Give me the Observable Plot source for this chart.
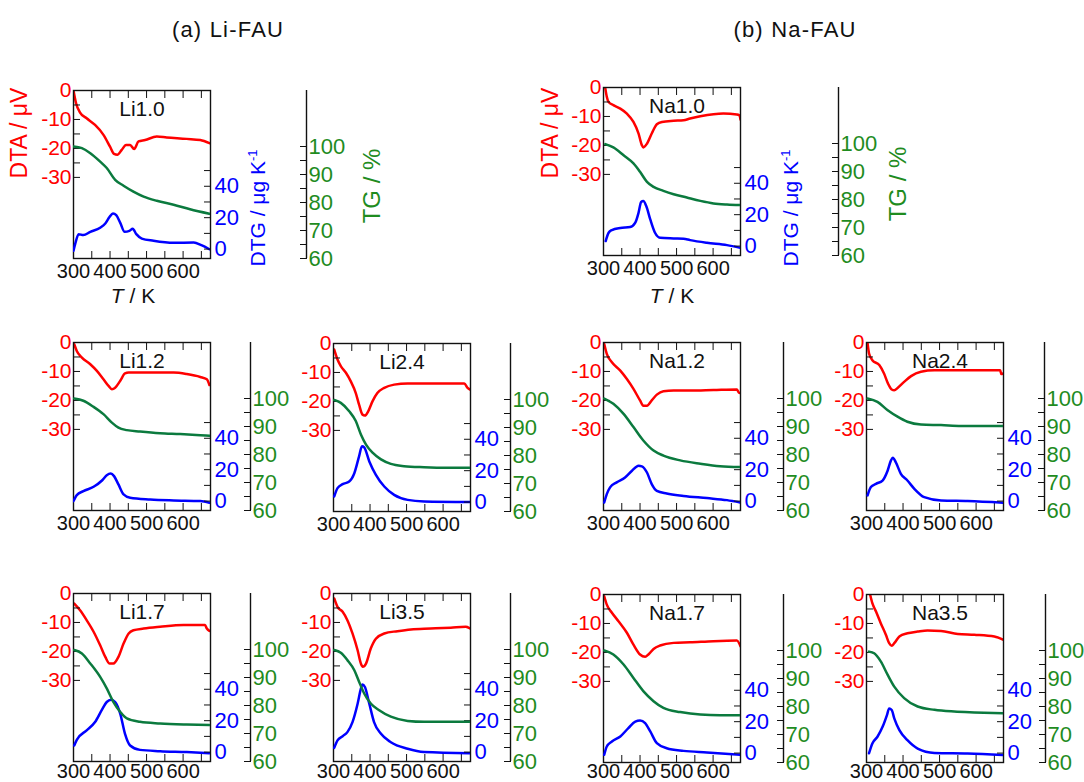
<!DOCTYPE html>
<html><head><meta charset="utf-8">
<script src="https://cdn.jsdelivr.net/npm/d3@7"></script>
<script src="https://cdn.jsdelivr.net/npm/@observablehq/plot@0.6"></script>
<style>
body{margin:0;background:#fff}
#fig{position:relative;width:1084px;height:782px;overflow:hidden;font-family:"Liberation Sans",Arial,sans-serif;background:#fff}
.lab{position:absolute;white-space:nowrap;transform:translate(-50%,-50%);line-height:1}
.rot{transform:translate(-50%,-50%) rotate(-90deg)}
#fig svg{position:absolute}
sup{font-size:0.62em;vertical-align:0.55em;line-height:0}
</style></head><body><div id="fig"></div><script>
// ---- data: [T (K), value] ----
const li10_dta = [[300,0],[307,-4.4],[318,-7.6],[336,-9.6],[359,-11.9],[382,-15.3],[400,-19.4],[411,-21.9],[420,-22.2],[432,-20.5],[444,-18.8],[455,-18.8],[466,-20.2],[478,-17.6],[496,-17.1],[528,-15.9],[555,-16.2],[610,-16.7],[647,-17.1],[672,-18.2]];
const li10_tg = [[300,100],[323,99.4],[346,97.6],[373,94.6],[391,92.3],[414,88.1],[437,86],[464,83.9],[492,82.1],[528,80.6],[574,79.2],[619,77.6],[672,76]];
const li10_dtg = [[300,-1.1],[305,3.6],[314,9.5],[327,8.9],[346,11],[373,13.6],[387,16.3],[399,20.6],[408,22.7],[417,21.6],[428,16.7],[440,11],[453,11.6],[462,12.9],[472,9.5],[487,6.7],[519,5.3],[574,4],[629,4.2],[650,2.5],[672,-0.1]];

const na10_dta = [[305,-0.3],[309,-3.2],[314,-5],[327,-6.1],[346,-7.3],[364,-9],[382,-11.9],[396,-15.9],[405,-19.9],[409,-20.7],[419,-19.4],[432,-15.9],[446,-12.7],[460,-11.9],[492,-11.5],[519,-11.3],[537,-10.7],[565,-9.9],[601,-9.2],[628,-9],[665,-9.3],[672,-9.6],[675,-11.1]];
const na10_tg = [[305,99.8],[327,98.6],[355,95.8],[382,92.9],[400,89.9],[419,86.3],[437,84.5],[464,83.1],[492,81.9],[528,80.7],[565,79.5],[601,78.6],[638,78.2],[675,78]];
const na10_dtg = [[306,3.2],[314,8.5],[323,10.2],[346,11.5],[373,12.1],[387,14.9],[396,21.3],[403,28.1],[409,28.7],[417,25.5],[428,17],[441,8.5],[455,5.3],[492,4.9],[519,4.7],[537,3.8],[583,2.1],[638,0.6],[675,-1.1]];

const li12_dta = [[302,-0.6],[309,-2.9],[323,-5.2],[346,-7.5],[364,-9.8],[382,-12.7],[396,-15],[405,-16.1],[414,-15.6],[428,-13.2],[441,-10.7],[451,-10.4],[510,-10.4],[574,-10.4],[610,-10.9],[647,-11.9],[665,-12.7],[672,-14.7]];
const li12_tg = [[302,100],[327,99.2],[355,97],[382,94.4],[405,91.4],[423,89.6],[446,88.7],[482,88.2],[537,87.6],[592,87.3],[647,86.9],[672,86.7]];
const li12_dtg = [[300,0],[309,3.8],[327,6.3],[355,9.1],[378,13.1],[391,16.5],[402,17.6],[411,15.9],[423,10.6],[437,4.2],[455,2.1],[510,1],[574,0.4],[647,0],[672,-1.1]];

const li24_dta = [[302,-2.1],[311,-5.5],[320,-7.8],[334,-10.1],[347,-13],[361,-17.1],[370,-21.1],[379,-24.5],[386,-24.9],[395,-23.4],[407,-19.9],[420,-17.1],[439,-15.3],[466,-14.2],[503,-13.8],[548,-13.8],[594,-13.8],[658,-13.8],[667,-15.3],[674,-15.9]];
const li24_tg = [[302,99.8],[320,98.8],[343,95.8],[361,92.3],[375,87.5],[389,83.9],[407,81],[430,78.6],[457,77],[493,76.2],[548,75.8],[612,75.6],[674,75.6]];
const li24_dtg = [[302,3.6],[311,8.9],[325,11.4],[343,13.1],[357,18.4],[370,29.1],[378,35.5],[384,34.8],[398,25.9],[416,17.4],[439,9.9],[466,4.6],[503,1.4],[548,0.4],[674,0]];

const li17_dta = [[302,-3.5],[318,-5.8],[336,-9.2],[355,-13.2],[373,-17.9],[387,-21.9],[399,-24.2],[409,-24.2],[423,-21.9],[437,-17.3],[451,-13.8],[464,-12.7],[492,-12.1],[537,-11.5],[601,-10.9],[660,-10.9],[665,-12.1],[672,-12.9]];
const li17_tg = [[302,99.8],[323,98.6],[346,95],[373,90.2],[391,86.1],[409,81.3],[428,77.7],[446,75.4],[482,74.2],[537,73.6],[610,73.2],[672,73]];
const li17_dtg = [[302,4.2],[309,7.8],[336,13.8],[359,19.1],[378,27],[391,31.9],[403,33.3],[414,31.9],[428,24.4],[441,11.6],[455,4.2],[482,1.4],[537,0.6],[610,0],[672,-0.7]];

const li35_dta = [[302,-1.7],[311,-4.6],[325,-6.3],[338,-9.2],[352,-13.8],[366,-19.6],[375,-24.2],[380,-25.3],[389,-24.2],[402,-19],[416,-15.6],[439,-13.8],[475,-13],[512,-12.4],[566,-12.1],[621,-11.8],[662,-11.5],[674,-12.1]];
const li35_tg = [[302,99.8],[320,98.8],[338,96.2],[357,92.6],[370,88.5],[384,84.3],[402,80.7],[425,78.3],[457,76],[503,74.5],[548,74.2],[674,74.2]];
const li35_dtg = [[302,2.7],[311,7.4],[325,10.1],[338,12.7],[352,19.1],[366,30.8],[375,40.4],[379,43.1],[386,41.4],[398,30.8],[411,19.1],[430,11.6],[457,6.3],[503,2.1],[548,0],[674,-0.7]];

const na12_dta = [[302,-0.5],[309,-3.9],[323,-6.8],[346,-9.7],[364,-12.6],[382,-16],[400,-20],[409,-21.8],[419,-21.8],[432,-20],[446,-18],[464,-16.8],[492,-16.6],[537,-16.6],[601,-16.4],[665,-16.2],[670,-17.2],[675,-17.5]];
const na12_tg = [[302,100],[327,98.1],[355,94.5],[382,89.8],[409,85],[437,81.4],[464,79.6],[510,77.9],[565,76.7],[619,75.8],[675,75.5]];
const na12_dtg = [[302,-0.9],[309,4.4],[318,8.7],[336,11.9],[359,15],[378,19.3],[396,22.5],[405,22.1],[419,18.2],[432,10.8],[446,6.5],[473,4.8],[519,3.3],[583,1.9],[638,0.6],[675,-0.9]];

const na24_dta = [[303,-0.3],[307,-3.8],[316,-6.1],[335,-7.8],[348,-10.7],[359,-14.2],[369,-16.2],[376,-16.5],[385,-15.7],[403,-13.6],[422,-11.6],[449,-10.1],[486,-9.6],[522,-9.6],[559,-9.6],[614,-9.6],[666,-9.6],[669,-10.9],[675,-10.7]];
const na24_tg = [[303,100],[330,98.8],[358,95.8],[385,93.5],[412,91.7],[449,90.7],[504,90.5],[559,90.2],[675,90.2]];
const na24_dtg = [[303,3.6],[312,8.9],[326,11],[344,13.1],[358,19.5],[367,25.9],[372,27.6],[380,24.8],[394,17.4],[412,13.1],[431,7.8],[458,2.5],[504,0.4],[577,0],[675,-1.1]];

const na17_dta = [[302,-0.6],[309,-3.5],[323,-6.3],[341,-9.2],[364,-13.2],[382,-17.3],[400,-20.7],[414,-21.5],[423,-20.7],[437,-18.8],[455,-17.6],[492,-16.7],[537,-16.5],[601,-16.1],[665,-15.9],[675,-17.9]];
const na17_tg = [[302,100],[327,98.6],[355,95],[382,90.2],[409,85.5],[437,81.9],[464,79.5],[510,78],[565,77.1],[619,76.9],[675,76.9]];
const na17_dtg = [[302,-1.1],[309,4.2],[323,7.4],[346,10.6],[368,15.9],[387,20.1],[400,20.8],[414,19.1],[428,13.8],[446,6.3],[473,3.1],[519,1.4],[583,0.4],[675,-1.1]];

const na35_dta = [[310,-0.1],[316,-3],[326,-5.9],[339,-9.9],[353,-13.9],[362,-16.8],[369,-17.7],[376,-16.8],[390,-14.5],[412,-13.4],[440,-12.8],[467,-12.4],[504,-12.6],[550,-13.6],[595,-13.9],[650,-14.5],[675,-15.7]];
const na35_tg = [[307,99.6],[321,99],[339,96.1],[358,91.3],[376,87.1],[403,83],[440,80],[486,78.8],[540,78.2],[595,77.9],[675,77.6]];
const na35_dtg = [[307,-0.1],[316,6.1],[330,10.4],[344,16.7],[356,24.2],[362,28.4],[369,27.4],[376,22.1],[390,14.6],[412,8.2],[440,2.9],[486,0.1],[577,-0.3],[675,-1.3]];

// ---- tick values ----
const xTicks = [300,350,400,450,500,550,600,650];
const xLabels = [300,400,500,600];
const dtaTicks = [0,-5,-10,-15,-20,-25,-30];
const dtaLabels = [0,-10,-20,-30];
const dtgTicks = [0,10,20,30,40,50];
const dtgLabels = [0,20,40];
const tgTicks = [60,65,70,75,80,85,90,95,100];
const tgLabels = [60,70,80,90,100];

// ---- layout ----
const panels = [
  {name:"Li1.0", left:73,  top:90,  tgx:233, dx:0, xpad:5, dta:li10_dta, tg:li10_tg, dtg:li10_dtg},
  {name:"Na1.0", left:603, top:87,  tgx:235, dx:5, xpad:5, dta:na10_dta, tg:na10_tg, dtg:na10_dtg},
  {name:"Li1.2", left:73,  top:342, tgx:177, dx:0, xpad:5, dta:li12_dta, tg:li12_tg, dtg:li12_dtg},
  {name:"Li2.4", left:333, top:343, tgx:177, dx:0, xpad:5, dta:li24_dta, tg:li24_tg, dtg:li24_dtg},
  {name:"Na1.2", left:603, top:342, tgx:180, dx:5, xpad:5, dta:na12_dta, tg:na12_tg, dtg:na12_dtg},
  {name:"Na2.4", left:866, top:342, tgx:178, dx:5, xpad:5, dta:na24_dta, tg:na24_tg, dtg:na24_dtg},
  {name:"Li1.7", left:73,  top:593, tgx:177, dx:0, xpad:2, dta:li17_dta, tg:li17_tg, dtg:li17_dtg},
  {name:"Li3.5", left:333, top:593, tgx:177, dx:0, xpad:2, dta:li35_dta, tg:li35_tg, dtg:li35_dtg},
  {name:"Na1.7", left:603, top:594, tgx:180, dx:5, xpad:1, dta:na17_dta, tg:na17_tg, dtg:na17_dtg},
  {name:"Na3.5", left:866, top:594, tgx:179, dx:5, xpad:1, dta:na35_dta, tg:na35_tg, dtg:na35_dtg}
];

const FONT = '"Liberation Sans", Arial, sans-serif';
const RED = "#ff0000", BLUE = "#0000ff", GREEN_T = "#1f8c1f", GREEN_L = "#0b7a3e", INK = "#111";
const ML = 60, MR = 60, MT = 14, MB = 44, W = 137, H = 168;
const fig = document.getElementById("fig");
const fmt = d => String(d);
const X = d => d[0], Y = d => d[1];
const LW = 2.5;

function place(svg, x, y) { svg.style.left = x + "px"; svg.style.top = y + "px"; fig.appendChild(svg); }

function base(extra) {
  return Object.assign({
    width: ML + W + MR, height: MT + H + MB,
    marginLeft: ML, marginRight: MR, marginTop: MT, marginBottom: MB,
    style: {background: "transparent", fontFamily: FONT, fontSize: "20px", overflow: "visible"}
  }, extra);
}

for (const p of panels) {
  const ox = p.left - ML, oy = p.top - MT;
  // DTA layer with frame and x axes
  place(Plot.plot(base({
    x: {domain: [300, 675]},
    y: {domain: [-58, 0]},
    marks: [
      Plot.line(p.dta, {x: X, y: Y, stroke: RED, strokeWidth: LW, curve: "monotone-x", clip: true}),
      Plot.frame({stroke: INK, strokeWidth: 1.4}),
      Plot.axisX({anchor: "bottom", ticks: xTicks, tickSize: -7, tickFormat: () => "", label: null, color: INK}),
      Plot.axisX({anchor: "top", ticks: xTicks, tickSize: -7, tickFormat: () => "", label: null, color: INK}),
      Plot.axisX({anchor: "bottom", ticks: xLabels, tickSize: 0, tickPadding: p.xpad, tickFormat: fmt, label: null, color: "#111", fontSize: 20}),
      Plot.axisY({anchor: "left", ticks: dtaTicks, tickSize: -7, tickFormat: () => "", label: null, color: INK}),
      Plot.axisY({anchor: "left", ticks: dtaLabels, tickSize: 0, tickPadding: 2, tickFormat: fmt, label: null, color: RED, fontSize: 21}),
      Plot.text([p.name], {frameAnchor: "top", dy: 19, dx: p.dx, text: d => d, fontSize: 21, lineAnchor: "middle", fill: "#111"})
    ]
  })), ox, oy);
  // DTG layer
  place(Plot.plot(base({
    x: {domain: [300, 675], axis: null},
    y: {domain: [-6, 101]},
    marks: [
      Plot.line(p.dtg, {x: X, y: Y, stroke: BLUE, strokeWidth: LW, curve: "monotone-x", clip: true}),
      Plot.axisY({anchor: "right", ticks: dtgTicks, tickSize: -7, tickFormat: () => "", label: null, color: INK}),
      Plot.axisY({anchor: "right", ticks: dtgLabels, tickSize: 0, tickPadding: 4, tickFormat: fmt, label: null, color: BLUE, fontSize: 22})
    ]
  })), ox, oy);
  // TG curve layer
  place(Plot.plot(base({
    x: {domain: [300, 675], axis: null},
    y: {domain: [60, 120], axis: null},
    marks: [
      Plot.line(p.tg, {x: X, y: Y, stroke: GREEN_L, strokeWidth: LW, curve: "monotone-x", clip: true})
    ]
  })), ox, oy);
  // TG separate axis
  place(Plot.plot({
    width: 70, height: MT + H + MB, marginLeft: 9, marginRight: 60, marginTop: MT, marginBottom: MB,
    style: {background: "transparent", fontFamily: FONT, fontSize: "22px", overflow: "visible"},
    x: {domain: [0, 1], axis: null},
    y: {domain: [60, 120]},
    marks: [
      Plot.ruleX([1], {stroke: INK, strokeWidth: 1.4}),
      Plot.axisY({anchor: "right", ticks: tgTicks, tickSize: -7, tickFormat: () => "", label: null, color: INK}),
      Plot.axisY({anchor: "right", ticks: tgLabels, tickSize: 0, tickPadding: 2, tickFormat: fmt, label: null, color: GREEN_T, fontSize: 22})
    ]
  }), p.left + p.tgx - 10, oy);
}

// ---- text labels ----
function label(html, x, y, opts = {}) {
  const d = document.createElement("div");
  d.className = "lab" + (opts.rot ? " rot" : "");
  d.innerHTML = html;
  d.style.left = x + "px"; d.style.top = y + "px";
  d.style.fontSize = (opts.size || 20) + "px";
  d.style.color = opts.color || "#111";
  if (opts.ls) d.style.letterSpacing = opts.ls + "px";
  fig.appendChild(d);
}
label("(a) Li-FAU", 228, 30, {size: 22, ls: 1.2});
label("(b) Na-FAU", 795, 30, {size: 22, ls: 1.2});
const titlePos = [
  {dta: [19, 133], dtg: [257, 208], tg: [372, 186], tk: [133, 295]},
  {dta: [550, 133], dtg: [790, 208], tg: [898, 184], tk: [672, 295]}
];
for (const t of titlePos) {
  label("DTA / μV", t.dta[0], t.dta[1], {rot: true, color: RED, size: 23});
  label("DTG / μg K<sup>-1</sup>", t.dtg[0], t.dtg[1], {rot: true, color: BLUE, size: 21});
  label("TG / %", t.tg[0], t.tg[1], {rot: true, color: GREEN_T, size: 24});
  label("<i>T</i> / K", t.tk[0], t.tk[1], {size: 21});
}
</script></body></html>
